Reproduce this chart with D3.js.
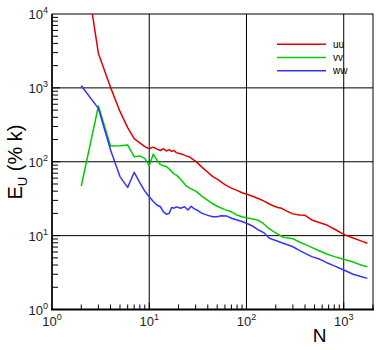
<!DOCTYPE html>
<html><head><meta charset="utf-8">
<script src="https://cdn.jsdelivr.net/npm/d3@7"></script>
<style>body{margin:0;background:#fff}svg{display:block}</style>
</head><body>
<svg id="c" width="378" height="350"></svg>
<script>
const uuN = [2,3,4,5,6,7,8,9,10,11,12,13,14,15,16,17,18,19,20,22,24,26,28,30,35,40,45,50,60,70,80,90,100,110,130,150,170,190,210,230,260,300,350,400,470,550,670,800,1000,1250,1500,1750];
const uuV = [95000,2930,1016,480,290,205,180,160,150,158,148,142,150,140,146,138,142,133,130,126,120,116,108,102,84,72,63,58,49,44,41,38,36.5,35,32,29.5,27,25.2,24,23.4,21.5,19.7,19.0,18.8,16.3,15.2,13.9,12.3,10.4,9.3,8.5,7.9];
const vvN = [2,3,4,5,6,7,8,9,10,11,12,13,14,15,16,17,18,19,20,22,24,26,28,30,35,40,45,50,60,70,80,90,100,110,130,150,170,190,210,240,270,300,350,400,450,550,670,800,1000,1250,1500,1750];
const vvV = [47,567,163,165,168,117,120,111,88,127,105,92,88,86,80,74,68,66,62,54,47,44,42,40,34,30,27,25,22.5,21,19,18,17.5,17,16.3,14.5,12.5,11.3,10.5,9.5,9.3,9.1,8.2,7.6,7.1,6.3,5.64,5.2,4.78,4.4,4.0,3.8];
const wwN = [2,3,4,5,6,7,8,9,10,11,12,13,14,15,16,17,18,19,20,21,23,25,27,29,31,35,40,45,50,55,63,70,80,90,100,115,133,150,172,200,230,260,300,350,400,470,570,670,800,1000,1250,1500,1750];
const wwV = [1067,528,144,63,45,72,52,40,33.6,29,26,24.6,21,19.5,20,24,23.5,24.5,24,23.5,24.6,22.2,25,23,22.2,20,18.8,18,18,18.6,18.4,17.2,16.3,15.5,14.7,13.5,11.9,11,9.2,8.6,8.0,7.6,7.07,6.3,5.76,5.2,4.78,4.3,3.9,3.42,3.0,2.8,2.64];
const seriesNames = ["uu","vv","ww"];
const seriesColors = ["#e00000","#00cc00","#3333ff"];
const decades = [1,10,100,1000];
const yDecades = [1,10,100,1000,10000];

const svg = d3.select("#c");
const x = d3.scaleLog().domain([1,2000]).range([52,373]);
const y = d3.scaleLog().domain([1,10000]).range([309.5,14]);
const font = "Arial, 'Liberation Sans', sans-serif";

svg.append("defs").append("clipPath").attr("id","clip")
  .append("rect").attr("x",52).attr("y",14).attr("width",321).attr("height",295.5);

// gridlines
const g = svg.append("g").attr("stroke","#000").attr("stroke-width",1);
decades.slice(1).forEach(d=>{
  g.append("line").attr("x1",x(d)).attr("x2",x(d)).attr("y1",14).attr("y2",309.5);
});
yDecades.slice(1,4).forEach(d=>{
  g.append("line").attr("x1",52).attr("x2",373).attr("y1",y(d)).attr("y2",y(d));
});
// frame
svg.append("rect").attr("x",52).attr("y",14).attr("width",321).attr("height",295.5)
  .attr("fill","none").attr("stroke","#000").attr("stroke-width",1);
svg.append("line").attr("x1",51).attr("x2",374).attr("y1",309.5).attr("y2",309.5).attr("stroke","#000").attr("stroke-width",2);
svg.append("line").attr("x1",52).attr("x2",52).attr("y1",14).attr("y2",310).attr("stroke","#000").attr("stroke-width",1.5);

// ticks
const tk = svg.append("g").attr("stroke","#000").attr("stroke-width",1);
x.ticks().filter(v=>v>1 && v<=2000).forEach(v=>{
  const major = Math.abs(Math.log10(v)-Math.round(Math.log10(v)))<1e-9;
  tk.append("line").attr("x1",x(v)).attr("x2",x(v)).attr("y1",309.5).attr("y2",309.5-(major?7:5));
});
y.ticks().filter(v=>v>1 && v<10000).forEach(v=>{
  const major = Math.abs(Math.log10(v)-Math.round(Math.log10(v)))<1e-9;
  tk.append("line").attr("x1",52).attr("x2",52+(major?8:6)).attr("y1",y(v)).attr("y2",y(v));
});

// tick labels
decades.forEach(d=>{
  const t = svg.append("text").attr("x",x(d)).attr("y",326).attr("text-anchor","middle")
    .attr("font-family",font).attr("font-size",13).attr("fill","#222");
  t.append("tspan").text("10");
  t.append("tspan").attr("dy",-6).attr("font-size",9).text(Math.round(Math.log10(d)));
});
yDecades.forEach(d=>{
  const t = svg.append("text").attr("x",48).attr("y",y(d)+5).attr("text-anchor","end")
    .attr("font-family",font).attr("font-size",13).attr("fill","#222");
  t.append("tspan").text("10");
  t.append("tspan").attr("dy",-6).attr("font-size",9).text(Math.round(Math.log10(d)));
});

// axis titles
svg.append("text").attr("x",319.5).attr("y",342).attr("text-anchor","middle")
  .attr("font-family",font).attr("font-size",19).attr("fill","#000").text("N");
const yt = svg.append("text").attr("transform","translate(22,162) rotate(-90)").attr("text-anchor","middle")
  .attr("font-family",font).attr("font-size",20).attr("fill","#000");
yt.append("tspan").text("E");
yt.append("tspan").attr("dy",5).attr("font-size",13).text("U");
yt.append("tspan").attr("dy",-5).text(" (% k)");

// lines
const line = d3.line().x(d=>x(d[0])).y(d=>y(d[1]));
const data = [[uuN,uuV],[vvN,vvV],[wwN,wwV]];
const lg = svg.append("g").attr("clip-path","url(#clip)");
data.forEach((s,i)=>{
  const pts = s[0].map((n,j)=>[n,s[1][j]]);
  lg.append("path").attr("d",line(pts)).attr("fill","none")
    .attr("stroke",seriesColors[i]).attr("stroke-width",1.5).attr("stroke-linejoin","round");
});

// legend
seriesNames.forEach((nm,i)=>{
  const ly = 44.3 + i*13.2;
  svg.append("line").attr("x1",277).attr("x2",326).attr("y1",ly).attr("y2",ly)
    .attr("stroke",seriesColors[i]).attr("stroke-width",1.5);
  svg.append("text").attr("x",333).attr("y",ly+3.5).attr("font-family",font).attr("font-size",10)
    .attr("fill","#000").text(nm);
});
</script>
</body></html>
